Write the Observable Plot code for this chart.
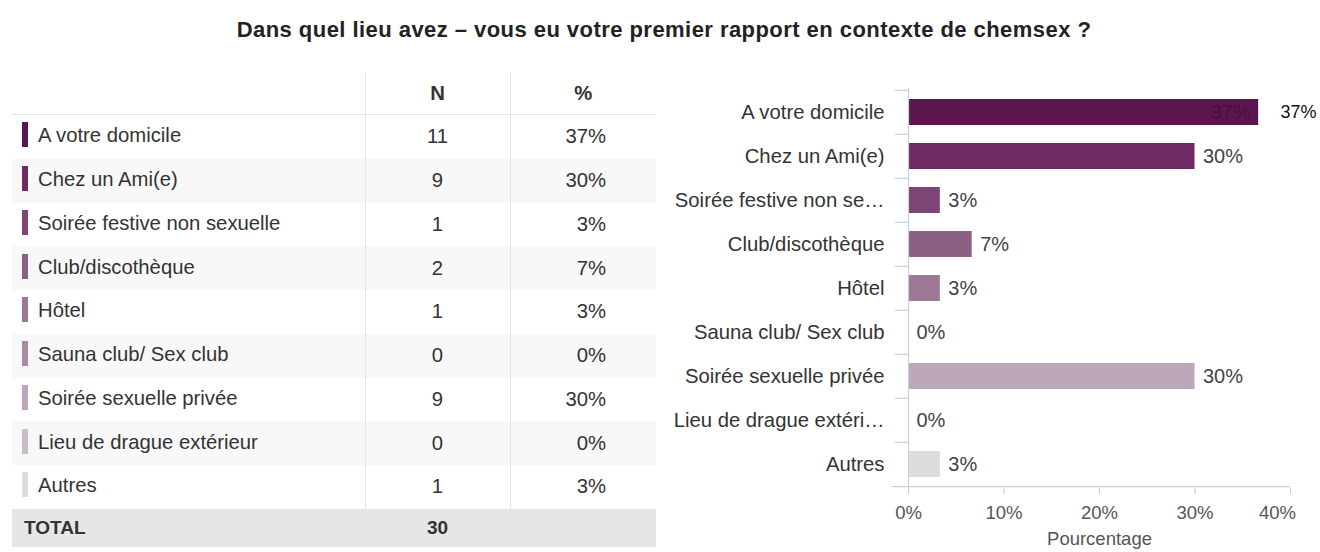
<!DOCTYPE html>
<html>
<head>
<meta charset="utf-8">
<script src="https://cdn.jsdelivr.net/npm/d3@7"></script>
<script src="https://cdn.jsdelivr.net/npm/@observablehq/plot@0.6"></script>
<style>
  html, body { margin: 0; padding: 0; background: #fff; }
  body { width: 1320px; height: 552px; position: relative; overflow: hidden; font-family: "Liberation Sans", Arial, sans-serif; color: #333; }
  #title { position: absolute; left: 0; top: 17px; width: 1328px; text-align: center; font-weight: bold; font-size: 22px; letter-spacing: 0.45px; color: #222; line-height: 26px; }
  #tbl { position: absolute; left: 12px; top: 72px; width: 644px; border-collapse: collapse; table-layout: fixed; font-size: 20.3px; color: #333; }
  #tbl td, #tbl th { padding: 0; height: 43.75px; border: none; white-space: nowrap; }
  #tbl th { font-weight: bold; height: 42px; border-bottom: 1px solid #e2e2e2; }
  #tbl .c1 { text-align: left; }
  #tbl .c2 { text-align: center; border-left: 1px solid #e6e6e6; }
  #tbl .c3 { text-align: right; padding-right: 50px; border-left: 1px solid #e6e6e6; }
  #tbl th.c3 { text-align: center; padding-right: 0; }
  #tbl tr.alt td { background: #f8f8f8; }
  #tbl tr.total td { background: #e6e6e6; font-weight: bold; height: 38px; font-size: 19px; }
  .sw { display: inline-block; width: 6px; height: 25px; vertical-align: middle; margin: 0 10px 0 10px; position: relative; top: -2px; }
  #chart { position: absolute; left: 660px; top: 80px; }
</style>
</head>
<body>
<div id="title">Dans quel lieu avez – vous eu votre premier rapport en contexte de chemsex ?</div>
<table id="tbl"></table>
<div id="chart"></div>
<script>
const categories = [
  "A votre domicile",
  "Chez un Ami(e)",
  "Soirée festive non sexuelle",
  "Club/discothèque",
  "Hôtel",
  "Sauna club/ Sex club",
  "Soirée sexuelle privée",
  "Lieu de drague extérieur",
  "Autres"
];
const counts = [11, 9, 1, 2, 1, 0, 9, 0, 1];
const percentLabels = ["37%", "30%", "3%", "7%", "3%", "0%", "30%", "0%", "3%"];
const colors = ["#5b1650", "#6e2a63", "#7d4573", "#8c6083", "#9c7894", "#a88da2", "#bca8b9", "#cbbdc8", "#dcdcdc"];
const total = 30;
const headers = ["", "N", "%"];
const totalLabel = "TOTAL";
const xTicks = [0, 0.1, 0.2, 0.3, 0.4];
const xLabel = "Pourcentage";

const rows = categories.map((c, i) => ({
  cat: c, n: counts[i], pct: counts[i] / total, label: percentLabels[i], color: colors[i]
}));

// ---- table ----
const tbl = document.getElementById("tbl");
let html = `<colgroup><col style="width:353px"><col style="width:145px"><col style="width:146px"></colgroup>`;
html += `<tr><th class="c1">${headers[0]}</th><th class="c2">${headers[1]}</th><th class="c3">${headers[2]}</th></tr>`;
rows.forEach((r, i) => {
  html += `<tr class="${i % 2 === 1 ? "alt" : ""}"><td class="c1"><span class="sw" style="background:${r.color}"></span>${r.cat}</td><td class="c2">${r.n}</td><td class="c3">${r.label}</td></tr>`;
});
html += `<tr class="total"><td class="c1" style="padding-left:12px">${totalLabel}</td><td class="c2">${total}</td><td class="c3"></td></tr>`;
tbl.innerHTML = html;

// ---- bar chart ----
const truncate = s => s.length > 22 ? s.slice(0, 21) + "…" : s;
const axisColor = "#c9cfe0";
const H = 472, mTop = 8, mBottom = 64;
const step = (H - mTop - mBottom) / categories.length;
const maxRow = rows.reduce((a, b) => (b.pct > a.pct ? b : a));
const otherRows = rows.filter(r => r !== maxRow);
const pctFmt = d3.format(".0%");

const chart = Plot.plot({
  width: 660,
  height: H,
  marginLeft: 248,
  marginRight: 30,
  marginTop: mTop,
  marginBottom: mBottom,
  style: { fontFamily: "Liberation Sans, Arial, sans-serif", fontSize: "20px", color: "#444", background: "transparent" },
  x: { domain: [0, 0.4] },
  y: { domain: categories, padding: 0 },
  marks: [
    Plot.barX(rows, { x: "pct", y: "cat", fill: "color", insetTop: 9, insetBottom: 9 }),
    Plot.ruleX([0], { stroke: axisColor, strokeWidth: 1.2 }),
    Plot.ruleY(categories, { y: d => d, x1: -0.014, x2: 0, dy: -step / 2, stroke: axisColor, strokeWidth: 1.2, clip: false }),
    Plot.ruleY([categories[categories.length - 1]], { y: d => d, x1: -0.017, x2: 0.4, dy: step / 2, stroke: axisColor, strokeWidth: 1.2 }),
    Plot.axisY({ tickSize: 0, tickPadding: 24, tickFormat: truncate, fill: "#333", fontSize: 20.3, label: null }),
    Plot.axisX({ ticks: xTicks, tickFormat: () => "", tickSize: 6, stroke: axisColor, strokeWidth: 1.2, label: null }),
    Plot.axisX({ ticks: xTicks.slice(0, -1), tickFormat: pctFmt, tickSize: 0, tickPadding: 17, fill: "#555", fontSize: 18.5, label: xLabel, labelAnchor: "center", labelOffset: 56, labelArrow: "none" }),
    Plot.axisX({ ticks: xTicks.slice(-1), tickFormat: pctFmt, tickSize: 0, tickPadding: 17, fill: "#555", fontSize: 18.5, label: null, dx: -13 }),
    Plot.text(otherRows, { x: "pct", y: "cat", text: "label", textAnchor: "start", dx: 8, fill: "#444" }),
    Plot.text([maxRow], { x: "pct", y: "cat", text: "label", textAnchor: "end", dx: -8, fill: "#4a0f40" }),
    Plot.text([maxRow], { x: () => 0.4, y: "cat", text: "label", textAnchor: "start", dx: -10, fill: "#111", fontSize: 18 })
  ]
});
document.getElementById("chart").appendChild(chart);
</script>
</body>
</html>
